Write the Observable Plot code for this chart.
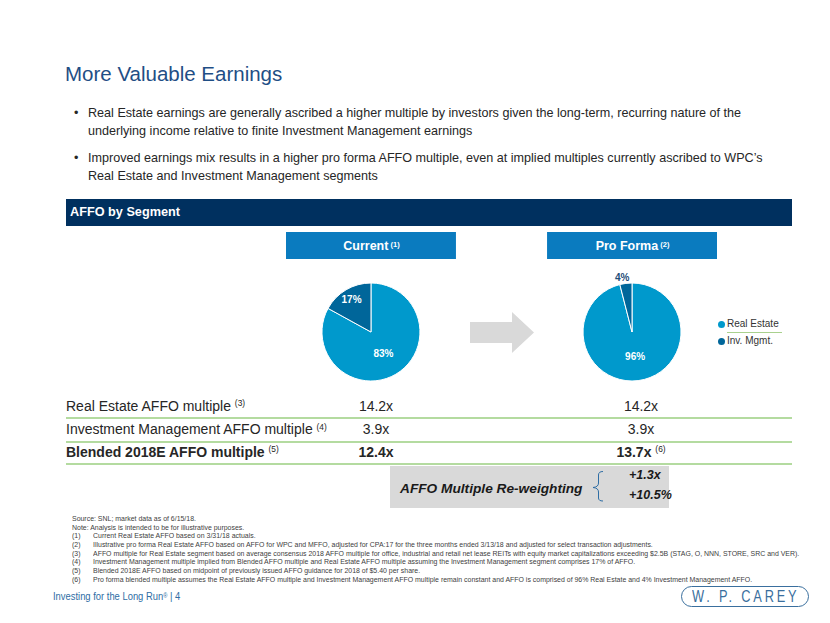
<!DOCTYPE html>
<html>
<head>
<meta charset="utf-8">
<script src="https://cdn.jsdelivr.net/npm/d3@7"></script>
<script src="https://cdn.jsdelivr.net/npm/@observablehq/plot@0.6"></script>
<style>
  html, body { margin: 0; padding: 0; background: #fff; }
  #page { position: relative; width: 830px; height: 623px; overflow: hidden; font-family: "Liberation Sans", Arial, sans-serif; color: #262626; }
  .abs { position: absolute; white-space: nowrap; line-height: 1; }
  sup.n { font-size: 0.6em; vertical-align: 0; position: relative; top: -0.55em; font-weight: normal; }
</style>
</head>
<body>
<div id="page"></div>
<script>
// ---------------- data ----------------
const titleText = "More Valuable Earnings";
const bullets = [
  ["Real Estate earnings are generally ascribed a higher multiple by investors given the long-term, recurring nature of the",
   "underlying income relative to finite Investment Management earnings"],
  ["Improved earnings mix results in a higher pro forma AFFO multiple, even at implied multiples currently ascribed to WPC\u2019s",
   "Real Estate and Investment Management segments"]
];
const sectionTitle = "AFFO by Segment";
const scenarios = ["Current", "Pro Forma"];
const scenarioNotes = ["(1)", "(2)"];
const segments = ["Real Estate", "Inv. Mgmt."];
const segmentColors = ["#0099cc", "#00669a"];
const currentShares = [83, 17];
const proFormaShares = [96, 4];

const rowLabels = ["Real Estate AFFO multiple", "Investment Management AFFO multiple", "Blended 2018E AFFO multiple"];
const rowNotes = ["(3)", "(4)", "(5)"];
const currentMultiples = ["14.2x", "3.9x", "12.4x"];
const proFormaMultiples = ["14.2x", "3.9x", "13.7x"];
const proFormaNotes = ["", "", "(6)"];
const reweightLabel = "AFFO Multiple Re-weighting";
const reweightValues = ["+1.3x", "+10.5%"];

const footnotes = [
  ["", "Source: SNL; market data as of 6/15/18."],
  ["", "Note: Analysis is intended to be for illustrative purposes."],
  ["(1)", "Current Real Estate AFFO based on 3/31/18 actuals."],
  ["(2)", "Illustrative pro forma Real Estate AFFO based on AFFO for WPC and MFFO, adjusted for CPA:17 for the three months ended 3/13/18 and adjusted for select transaction adjustments."],
  ["(3)", "AFFO multiple for Real Estate segment based on average consensus 2018 AFFO multiple for office, industrial and retail net lease REITs with equity market capitalizations exceeding $2.5B (STAG, O, NNN, STORE, SRC and VER)."],
  ["(4)", "Investment Management multiple implied from Blended AFFO multiple and Real Estate AFFO multiple assuming the Investment Management segment comprises 17% of AFFO."],
  ["(5)", "Blended 2018E AFFO based on midpoint of previously issued AFFO guidance for 2018 of $5.40 per share."],
  ["(6)", "Pro forma blended multiple assumes the Real Estate AFFO multiple and Investment Management AFFO multiple remain constant and AFFO is comprised of 96% Real Estate and 4% Investment Management AFFO."]
];
const footerText = "Investing for the Long Run";
const pageNumber = "4";
const logoText = "W. P. CAREY";

// ---------------- helpers ----------------
const page = document.getElementById("page");
function el(tag, style, html) {
  const e = document.createElement(tag);
  e.className = "abs";
  Object.assign(e.style, style);
  if (html !== undefined) e.innerHTML = html;
  page.appendChild(e);
  return e;
}

// title
el("div", {left: "65px", top: "64px", fontSize: "20.5px", color: "#1f4e85"}, titleText);

// bullets
const bulletTops = [[106.5, 124.5], [151.5, 169.5]];
bullets.forEach((lines, i) => {
  el("div", {left: "74px", top: bulletTops[i][0] + "px", fontSize: "12.6px"}, "\u2022");
  lines.forEach((t, j) => el("div", {left: "88px", top: bulletTops[i][j] + "px", fontSize: "12.6px"}, t));
});

// section header bar
el("div", {left: "66px", top: "199px", width: "726px", height: "27px", background: "#00305f"});
el("div", {left: "70px", top: "206px", fontSize: "12.7px", fontWeight: "bold", color: "#fff"}, sectionTitle);

// arrow
el("div", {left: "470px", top: "312px", width: "64px", height: "41px", background: "#d9d9d9",
  clipPath: "polygon(0 24.4%, 65.6% 24.4%, 65.6% 0, 100% 50%, 65.6% 100%, 65.6% 75.6%, 0 75.6%)"});

// ---------------- Plot: scenario headers + pies ----------------
const pieData = [];
scenarios.forEach((s, i) => {
  const shares = i === 0 ? currentShares : proFormaShares;
  segments.forEach((seg, j) => pieData.push({scenario: s, segment: seg, share: shares[j]}));
});
const colorOf = d3.scaleOrdinal(segments, segmentColors);
const R = 49;

function pieMark(index, scales, values, dimensions) {
  const g = d3.create("svg:g").attr("aria-label", "pie");
  const bw = scales.x.bandwidth ? scales.x.bandwidth() : 0;
  const headBottom = scales.y("head") + (scales.y.bandwidth ? scales.y.bandwidth() : 0);
  const cy = (headBottom + dimensions.height) / 2;
  const arc = d3.arc().innerRadius(0).outerRadius(R);
  scenarios.forEach(s => {
    const cx = scales.x(s) + bw / 2;
    const rows = pieData.filter(d => d.scenario === s);
    const arcs = d3.pie().sort(null).value(d => d.share)(rows);
    const pg = g.append("g").attr("transform", `translate(${cx},${cy})`);
    pg.selectAll("path").data(arcs).join("path")
      .attr("d", arc)
      .attr("fill", d => colorOf(d.data.segment))
      .attr("stroke", "#fff").attr("stroke-width", 1);
    pg.selectAll("text").data(arcs).join("text")
      .each(function(d) {
        const a = (d.startAngle + d.endAngle) / 2;
        const share = d.data.share;
        const r = share < 10 ? R + 6 : share < 50 ? R * 0.78 : R * 0.5;
        d3.select(this)
          .attr("x", Math.sin(a) * r - (share < 10 ? 3 : 0))
          .attr("y", -Math.cos(a) * r)
          .attr("fill", share < 10 ? "#1f4e79" : "#fff");
      })
      .attr("text-anchor", "middle")
      .attr("dy", "0.35em")
      .attr("font-size", 10)
      .attr("font-weight", "bold")
      .attr("font-family", "Liberation Sans, Arial, sans-serif")
      .text(d => d.data.share + "%");
  });
  return g.node();
}

const chart = Plot.plot({
  width: 830,
  height: 179,
  margin: 0,
  style: {background: "transparent", fontFamily: "Liberation Sans, Arial, sans-serif", overflow: "visible"},
  x: {type: "band", domain: scenarios, range: [286, 717], paddingInner: 0.349, paddingOuter: 0, round: false, axis: null},
  y: {type: "band", domain: ["head"], range: [6, 33], padding: 0, round: false, axis: null},
  marks: [
    Plot.cell(scenarios, {x: d => d, y: () => "head", fill: "#0a7bbf", inset: 0}),
    Plot.text(scenarios, {x: d => d, y: () => "head", text: d => d, fill: "#fff", fontWeight: "bold", fontSize: 12.5}),
    pieMark
  ]
});
// superscript notes on scenario headers
d3.select(chart).selectAll("g[aria-label='text'] text").each(function(d, i) {
  d3.select(this).append("tspan").attr("font-size", 7.5).attr("font-weight", "bold").attr("dy", "-0.45em").text(" " + scenarioNotes[i]);
});
const holder = el("div", {left: "0px", top: "226px"});
holder.appendChild(chart);

// legend
segments.forEach((seg, i) => {
  const cy = 324 + i * 17;
  el("div", {left: "717.5px", top: (cy - 3.5) + "px", width: "7px", height: "7px", borderRadius: "50%", background: segmentColors[i]});
  el("div", {left: "727px", top: (cy - 5.5) + "px", fontSize: "10px", color: "#333"}, seg);
});
el("div", {left: "727px", top: "332px", width: "55px", height: "1px", background: "#a9d18e"});

// ---------------- table ----------------
const rowTops = [396, 419, 442];
const rowBottoms = [418, 442, 464];
rowLabels.forEach((lab, i) => {
  const bold = i === 2 ? "bold" : "normal";
  const cy = (rowTops[i] + rowBottoms[i]) / 2 - 1;
  el("div", {left: "66px", top: (cy - 7.3) + "px", fontSize: "14px", fontWeight: bold},
     lab + ' <sup class="n">' + rowNotes[i] + '</sup>');
  el("div", {left: "376px", top: (cy - 7.3) + "px", fontSize: "14px", fontWeight: bold, transform: "translateX(-50%)"},
     currentMultiples[i]);
  el("div", {left: "641px", top: (cy - 7.3) + "px", fontSize: "14px", fontWeight: bold, transform: "translateX(-50%)"},
     proFormaMultiples[i] + (proFormaNotes[i] ? ' <sup class="n">' + proFormaNotes[i] + '</sup>' : ""));
  el("div", {left: "66px", top: (rowBottoms[i] - 1) + "px", width: "726px", height: "2px", background: "#b4dba0"});
});

// re-weighting box
el("div", {left: "390px", top: "466px", width: "279px", height: "42px", background: "#d9d9d9"});
el("div", {left: "400px", top: "482px", fontSize: "13.7px", fontWeight: "bold", fontStyle: "italic", color: "#1a1a1a"}, reweightLabel);
reweightValues.forEach((v, i) => {
  el("div", {left: "629px", top: (468.5 + i * 20) + "px", fontSize: "12.5px", fontWeight: "bold", fontStyle: "italic", color: "#1a1a1a"}, v);
});
const brace = el("div", {left: "588px", top: "470px", width: "20px", height: "32px"});
brace.innerHTML = '<svg width="20" height="32"><path d="M15,1.5 Q10.5,1.5 10.5,5 L10.5,13 Q10.5,17 5,17.5 Q10.5,18 10.5,22 L10.5,28 Q10.5,31 15,31" fill="none" stroke="#2e6da4" stroke-width="1"/></svg>';

// ---------------- footnotes ----------------
footnotes.forEach((f, i) => {
  const top = 515 + i * 8.65;
  const st = {fontSize: "7.4px", color: "#404040", transform: "scaleX(0.94)", transformOrigin: "0 0"};
  if (f[0]) {
    el("div", Object.assign({left: "72px", top: top + "px"}, st), f[0]);
    el("div", Object.assign({left: "93px", top: top + "px"}, st), f[1]);
  } else {
    el("div", Object.assign({left: "72px", top: top + "px"}, st), f[1]);
  }
});

// footer
el("div", {left: "53px", top: "591px", fontSize: "10.8px", color: "#2e6da4", transform: "scaleX(0.87)", transformOrigin: "0 0"},
   footerText + '<sup style="font-size:6.5px;position:relative;top:-0.3em;vertical-align:0">\u00ae</sup> | ' + pageNumber);

// logo
el("div", {left: "681px", top: "586px", width: "126px", height: "19px", border: "1.5px solid #3a6f9e", borderRadius: "12px"});
el("div", {left: "692px", top: "589px", fontSize: "16px", letterSpacing: "3.5px",
  fontFamily: "'Liberation Sans', sans-serif", color: "#3a6f9e", transform: "scaleX(0.8)", transformOrigin: "0 0"}, logoText);
</script>
</body>
</html>
